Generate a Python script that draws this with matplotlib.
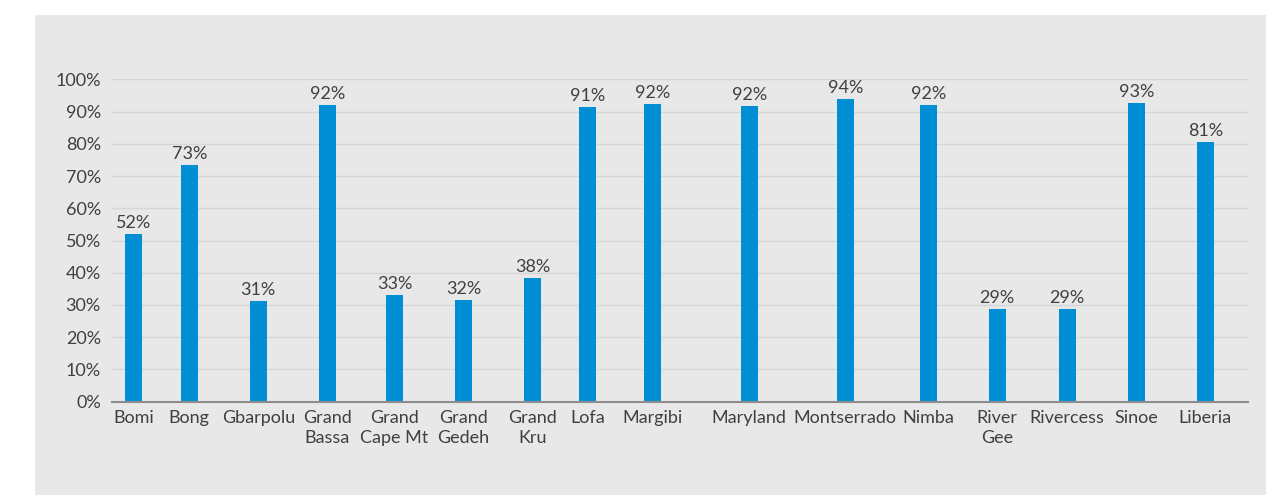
import matplotlib
matplotlib.use("Agg")
from matplotlib import pyplot as plt
from matplotlib.patches import Rectangle
from matplotlib.ticker import PercentFormatter

plt.rcParams['font.family'] = ['Lato', 'DejaVu Sans']

counties = ["Bomi", "Bong", "Gbarpolu", "Grand\nBassa", "Grand\nCape Mt",
            "Grand\nGedeh", "Grand\nKru", "Lofa", "Margibi", "Maryland",
            "Montserrado", "Nimba", "River\nGee", "Rivercess", "Sinoe", "Liberia"]

share = [0.52, 0.73, 0.31, 0.92, 0.33, 0.32, 0.38, 0.91, 0.92, 0.92,
         0.94, 0.92, 0.29, 0.29, 0.93, 0.81]

# bar heights as drawn (slightly more precise than the rounded labels)
bar_h = [0.521, 0.735, 0.313, 0.921, 0.331, 0.316, 0.384, 0.915, 0.924, 0.918,
         0.940, 0.921, 0.287, 0.287, 0.927, 0.807]

# category centres -- the original uses uneven slot widths
x_pos = [133.3, 189.3, 258.3, 327.3, 394.5, 463.5, 532.5, 587.3, 652.3,
         749.3, 845.3, 928.3, 997.3, 1067.3, 1136.3, 1205.3]

W, H = 1271, 495
fig = plt.figure(figsize=(W / 100, H / 100), dpi=100)
fig.patch.set_facecolor("white")
fig.patches.append(Rectangle((35 / W, 0), (1266 - 35) / W, (495 - 15) / H,
                             transform=fig.transFigure, facecolor="#e8e8e8",
                             edgecolor="none", zorder=0))

ax = fig.add_axes([112 / W, (H - 401.7) / H, (1247.7 - 112) / W, (401.7 - 79.3) / H])
ax.set_facecolor("none")
ax.set_zorder(2)

txt = "#404040"
fs = 13
ax.bar(x_pos, bar_h, width=16.7, color="#008fd5", zorder=3)
for x, h, s in zip(x_pos, bar_h, share):
    ax.annotate(f"{s:.0%}", (x, h), xytext=(0, 2), textcoords="offset points",
                ha="center", va="bottom", fontsize=fs, color=txt)

ax.set_xlim(112, 1247.7)
ax.set_ylim(0, 1)
ax.set_yticks([i / 10 for i in range(11)])
ax.yaxis.set_major_formatter(PercentFormatter(1.0, decimals=0))
ax.set_xticks(x_pos)
ax.set_xticklabels(counties, fontsize=fs, color=txt, linespacing=1.3)
ax.tick_params(axis="y", labelsize=fs, labelcolor=txt, length=0, pad=8)
ax.tick_params(axis="x", length=0, pad=6)
ax.grid(axis="y", color="#d6d6d6", linewidth=1, zorder=0)

for side in ["top", "right", "left"]:
    ax.spines[side].set_visible(False)
ax.spines["bottom"].set_color("#8c8c8c")
ax.spines["bottom"].set_linewidth(1.5)
ax.spines["bottom"].set_zorder(4)

plt.savefig("out.png", dpi=100, facecolor=fig.get_facecolor())
